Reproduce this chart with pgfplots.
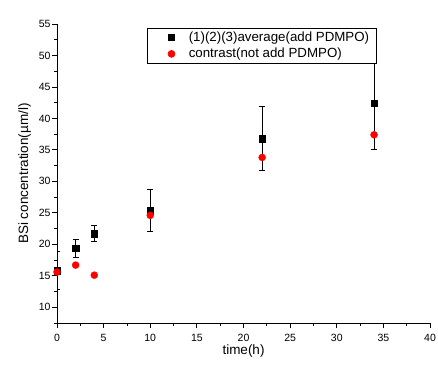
\documentclass[border=0pt]{standalone}
\usepackage{fontspec}
\setmainfont{Liberation Sans}
\usepackage{pgfplots}
\usetikzlibrary{shadows}
\pgfplotsset{compat=1.18}
\begin{document}
\begin{tikzpicture}[x=1pt,y=1pt]
\begin{axis}[
  scale only axis,
  width=373pt, height=299pt,
  xmin=0, xmax=40, ymin=7.5, ymax=55,
  axis x line*=bottom, axis y line*=left,
  axis line style={black, line width=0.8pt, -},
  xtick={0,5,...,40}, ytick={10,15,...,55},
  minor xtick={2.5,7.5,...,37.5}, minor ytick={7.5,12.5,...,52.5},
  tick align=outside,
  major tick length=5pt, minor tick length=3pt,
  tick style={black, line width=0.8pt},
  /pgf/number format/assume math mode=true,
  ticklabel style={font=\fontsize{10.5}{12}\selectfont},
  xticklabel style={yshift=-3pt},
  yticklabel style={xshift=2pt},
  xlabel={time(h)}, ylabel={BSi concentration(\textmu m/l)},
  label style={font=\fontsize{13.5}{15}\selectfont},
  xlabel style={yshift=4pt},
  ylabel style={yshift=1pt},
  legend style={at={(rel axis cs:0.241,0.987)}, anchor=north west,
    font=\fontsize{13.3}{15}\selectfont, draw=black, line width=0.6pt,
    inner xsep=5pt, inner ysep=2.5pt, row sep=3.5pt,
    nodes={inner xsep=2pt, inner ysep=1pt},
    drop shadow={shadow xshift=1pt, shadow yshift=-1pt, fill=gray}},
  legend cell align=left,
  legend image code/.code={\path (0pt,0pt) (34pt,0pt); \draw[#1] plot coordinates {(19pt,0pt)};},
]
\addplot[only marks, mark=square*, mark size=3.3pt, color=black,
  error bars/.cd, y dir=both, y explicit, error mark options={rotate=90, mark size=3pt, line width=0.8pt},
  error bar style={line width=0.8pt}]
  coordinates {
  (0,15.8) +- (0,3.0)
  (2,19.4) +- (0,1.4)
  (4,21.7) +- (0,1.3)
  (10,25.35) +- (0,3.35)
  (22,36.8) +- (0,5.1)
  (34,42.4) +- (0,7.4)
  };
\addlegendentry{(1)(2)(3)average(add PDMPO)}
\addplot[only marks, mark=*, mark size=3.5pt, color=red, mark options={draw=red, fill=red}]
  coordinates {(0,15.6) (2,16.7) (4,15.1) (10,24.6) (22,33.8) (34,37.4)};
\addlegendentry{contrast(not add PDMPO)}
\end{axis}
\pgfresetboundingbox
\path (-57pt,-43pt) rectangle (381pt,323pt);
\end{tikzpicture}
\end{document}
